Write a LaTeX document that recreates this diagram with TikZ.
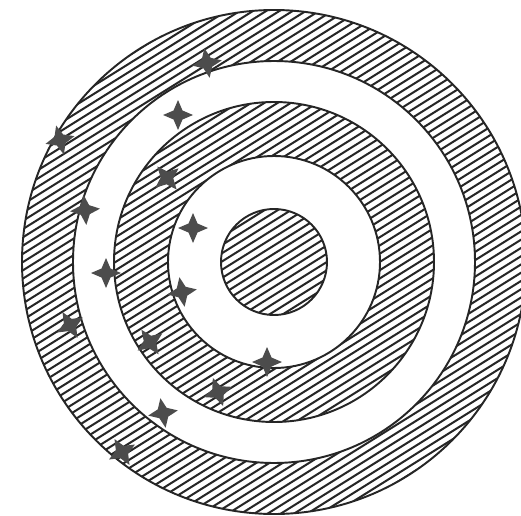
\documentclass[tikz,border=0pt]{standalone}
\begin{document}
\begin{tikzpicture}[x=0.02cm,y=0.02cm,
  hatchline/.style={line width=1.15pt,black!85},
  rim/.style={line width=1.1pt,black!85},
  sparkfill/.style={fill=black!70},
  spark/.pic={\fill[sparkfill] (0,15) -- (4.5,4.5) -- (15,0) -- (4.5,-4.5) -- (0,-15) -- (-4.5,-4.5) -- (-15,0) -- (-4.5,4.5) -- cycle;}]
\useasboundingbox (0,0) rectangle (521,515);
\coordinate (c) at (274,253);
% outer ring
\begin{scope}[even odd rule]
  \clip (c) circle (252) (c) circle (201);
  \begin{scope}[shift={(c)},rotate=32]
    \foreach \d in {-266,-259,...,266} \draw[hatchline] (-270,\d) -- (270,\d);
  \end{scope}
\end{scope}
% middle ring
\begin{scope}[even odd rule]
  \clip (c) circle (160) (c) circle (106);
  \begin{scope}[shift={(c)},rotate=32]
    \foreach \d in {-266,-259,...,266} \draw[hatchline] (-270,\d) -- (270,\d);
  \end{scope}
\end{scope}
% inner disc
\begin{scope}
  \clip (c) circle (53);
  \begin{scope}[shift={(c)},rotate=32]
    \foreach \d in {-266,-259,...,266} \draw[hatchline] (-270,\d) -- (270,\d);
  \end{scope}
\end{scope}
\draw[rim] (c) circle (252);
\draw[rim] (c) circle (201);
\draw[rim] (c) circle (160);
\draw[rim] (c) circle (106);
\draw[rim] (c) circle (53);
% sparkles
\foreach \px/\py/\r in {207/63/10, 178/115/0, 60/140/15, 167/178/40, 85/210/5,
  193/228/0, 106/273/0, 182/292/10, 70/325/30, 150/342/35, 267/362/0,
  218/392/20, 163/413/10, 122/452/30}
  \pic[rotate=\r] at (\px,515-\py) {spark};
\end{tikzpicture}
\end{document}
